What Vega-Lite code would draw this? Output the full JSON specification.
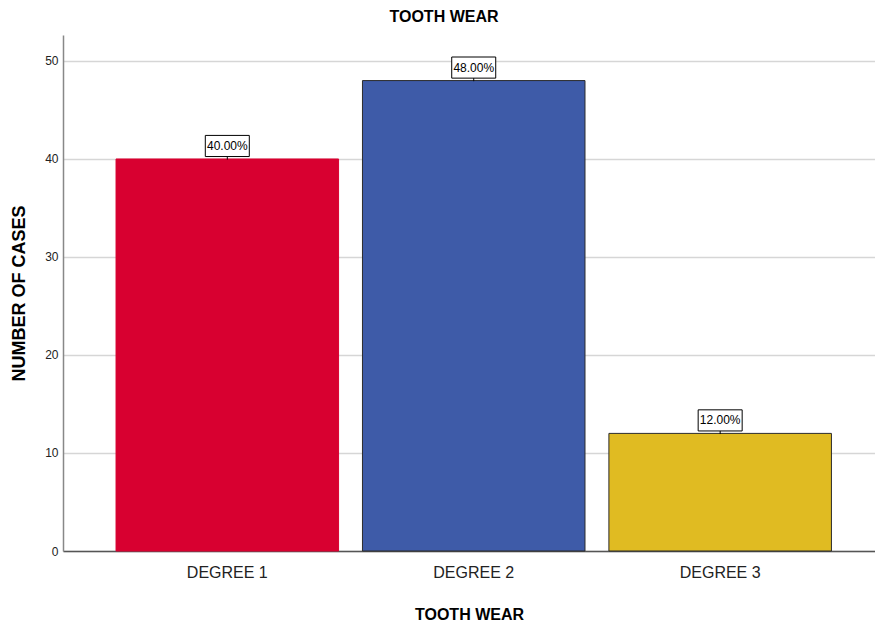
{
  "$schema": "https://vega.github.io/schema/vega-lite/v6.json",
  "width": 812,
  "height": 516,
  "autosize": {"type": "none"},
  "padding": {"left": 63, "top": 35, "right": 0, "bottom": 76},
  "background": "white",
  "title": {"text": "TOOTH WEAR", "fontSize": 16, "fontWeight": "bold", "font": "Liberation Sans", "color": "#000000", "anchor": "middle", "dx": -25, "offset": 10},
  "config": {"view": {"stroke": null}, "font": "Liberation Sans"},
  "data": {"values": [
    {"degree": "DEGREE 1", "cases": 40, "label": "40.00%"},
    {"degree": "DEGREE 2", "cases": 48, "label": "48.00%"},
    {"degree": "DEGREE 3", "cases": 12, "label": "12.00%"}
  ]},
  "encoding": {
    "x": {"field": "degree", "type": "nominal", "sort": null,
      "scale": {"paddingInner": 0.097, "paddingOuter": 0.196, "align": 0.549},
      "axis": {"title": "TOOTH WEAR", "titleFontSize": 16, "titleFontWeight": "bold", "titleColor": "#000000", "titlePadding": 26,
        "labelAngle": 0, "labelFontSize": 16, "labelColor": "#222222", "labelPadding": 13, "ticks": false,
        "domainColor": "#555555", "domainWidth": 1.5, "grid": false}},
    "y": {"field": "cases", "type": "quantitative",
      "scale": {"domain": [0, 52.65], "nice": false},
      "axis": {"title": "NUMBER OF CASES", "titleFontSize": 18, "titleFontWeight": "bold", "titleColor": "#000000", "titlePadding": 16,
        "values": [0, 10, 20, 30, 40, 50], "labelFontSize": 12, "labelColor": "#222222", "labelPadding": 5, "ticks": false,
        "domainColor": "#888888", "domainWidth": 1.5, "grid": true, "gridColor": "#d6d6d6", "gridWidth": 1.5}}
  },
  "layer": [
    {"mark": {"type": "bar", "strokeWidth": 1},
     "encoding": {
       "color": {"field": "degree", "type": "nominal", "legend": null,
         "scale": {"domain": ["DEGREE 1", "DEGREE 2", "DEGREE 3"], "range": ["#d80030", "#3e5ba8", "#e0bb22"]}},
       "stroke": {"field": "degree", "type": "nominal", "legend": null,
         "scale": {"domain": ["DEGREE 1", "DEGREE 2", "DEGREE 3"], "range": ["#d80030", "#2b2b2b", "#2b2b2b"]}}
     }},
    {"mark": {"type": "point", "shape": "M-1,-0.48H1V0.48H-1Z M0,0.48V0.62", "size": 1936, "filled": true, "fill": "white", "stroke": "#000000", "strokeWidth": 1, "opacity": 1, "yOffset": -13}},
    {"mark": {"type": "text", "fontSize": 12, "color": "#000000", "baseline": "middle", "align": "center", "yOffset": -13},
     "encoding": {"text": {"field": "label"}}}
  ]
}
